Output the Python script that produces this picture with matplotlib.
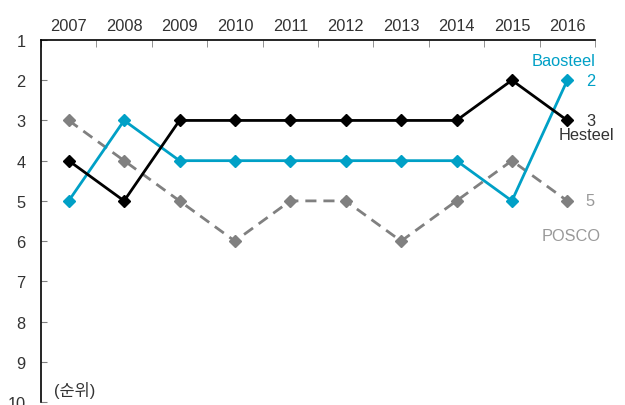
import numpy as np
import matplotlib.pyplot as plt

plt.rcParams['font.family'] = ['Liberation Sans', 'Noto Sans CJK KR', 'DejaVu Sans']

years = ['2007', '2008', '2009', '2010', '2011', '2012', '2013', '2014', '2015', '2016']
hesteel = [4, 5, 3, 3, 3, 3, 3, 3, 2, 3]
baosteel = [5, 3, 4, 4, 4, 4, 4, 4, 5, 2]
posco = [3, 4, 5, 6, 5, 5, 6, 5, 4, 5]

cyan = '#00A0C6'
grey = '#808080'
txt = '#333333'

fig = plt.figure(figsize=(6.25, 4.06), dpi=100)
ax = fig.add_axes([41/625, 1 - 403/406, 554/625, 362/406])

x = np.arange(len(years))
ax.plot(x, posco, color=grey, lw=2, ls=(0, (4, 2.5)), marker='D', ms=6, zorder=2)
ax.plot(x, baosteel, color=cyan, lw=2, marker='D', ms=6, zorder=3)
ax.plot(x, hesteel, color='black', lw=2, marker='D', ms=6, zorder=4)

ax.set_xlim(-0.5, len(years) - 0.5)
ax.set_ylim(10, 1)

fs = 11.8
ax.xaxis.tick_top()
ax.set_xticks(x)
ax.set_xticklabels(years, fontsize=fs, color=txt)
ax.tick_params(axis='x', which='major', length=0, pad=5)
ax.set_xticks(np.arange(-0.5, len(years)), minor=True)
ax.tick_params(axis='x', which='minor', direction='in', length=5, color=grey, top=True, bottom=False)

ax.set_yticks(range(1, 11))
ax.tick_params(axis='y', direction='in', length=4, color=grey, labelsize=fs, labelcolor=txt, pad=11)

for s in ['right', 'bottom']:
    ax.spines[s].set_visible(False)
for s in ['left', 'top']:
    ax.spines[s].set_linewidth(1.2)

ax.text(9.5, 1.52, 'Baosteel', color=cyan, fontsize=fs, ha='right', va='center')
ax.text(9.5, 2, '2', color=cyan, fontsize=fs, ha='right', va='center')
ax.text(9.5, 3, '3', color=txt, fontsize=fs, ha='right', va='center')
ax.text(9.85, 3.35, 'Hesteel', color=txt, fontsize=fs, ha='right', va='center')
ax.text(9.5, 5, '5', color='#999999', fontsize=fs, ha='right', va='center')
ax.text(9.6, 5.87, 'POSCO', color='#999999', fontsize=fs, ha='right', va='center')
ax.text(-0.27, 9.68, '(순위)', color=txt, fontsize=fs, ha='left', va='center')

fig.savefig('out.png', dpi=100)
